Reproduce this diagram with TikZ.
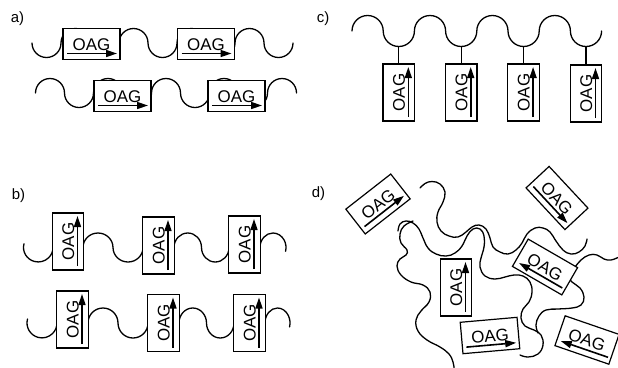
\documentclass[tikz,border=0pt]{standalone}
\usepackage{fontspec}
\setmainfont{Liberation Sans}
\usetikzlibrary{arrows.meta}
\newcommand{\WvT}[2]{arc[start angle=180,end angle=360,x radius=#1bp,y radius=#2bp]}
\newcommand{\WvC}[2]{arc[start angle=180,end angle=0,x radius=#1bp,y radius=#2bp]}
\begin{document}
\begin{tikzpicture}[x=1bp,y=-1bp,
  wave/.style={line width=1.3bp, line join=round, line cap=round},
  boxshape/.style={draw, line width=1.2bp, fill=white, minimum width=57bp, minimum height=31.5bp, inner sep=0pt, transform shape},
  oagtext/.style={inner sep=0pt, font=\fontsize{17}{17}\selectfont, transform shape},
  oagarrow/.style={line width=1.6bp, -{Triangle[length=11bp,width=7bp]}},
  lbl/.style={inner sep=0pt, font=\fontsize{15}{15}\selectfont},
  pics/oag/.style={code={
    \node[boxshape] (-box) at (0,0) {};
    \node[oagtext] (-txt) at (0,0.3) {OAG};
    \draw[oagarrow] (-24.5,9.5) -- (25.5,9.5);
  }},
  pics/oagrev/.style={code={
    \node[boxshape] (-box) at (0,0) {};
    \node[oagtext] (-txt) at (0,0.3) {OAG};
    \draw[oagarrow] (25.5,9.5) -- (-24.5,9.5);
  }},
]
\useasboundingbox (0,0) rectangle (618,367);

% labels
\node[lbl] (la) at (17.5,19) {a)};
\node[lbl] (lb) at (18.5,196) {b)};
\node[lbl] (lc) at (323,19) {c)};
\node[lbl] (ld) at (318.5,194) {d)};

% ---------- a) ----------
\draw[wave] (32,43) \WvT{14.5}{14.5} \WvC{14.5}{14.5} \WvT{14.5}{14.5} \WvC{14.5}{14.5}
  \WvT{14.5}{14.5} \WvC{14.5}{14.5} \WvT{14.5}{14.5} \WvC{14.5}{14.5} \WvT{14.5}{14.5};
\draw[wave] (35.5,93) \WvC{14.5}{14.5} \WvT{14.5}{14.5} \WvC{14.5}{14.5} \WvT{14.5}{14.5}
  \WvC{14.5}{14.5} \WvT{14.5}{14.5} \WvC{14.5}{14.5} \WvT{14.5}{14.5} \WvC{14.5}{14.5};
\pic (a1) at (91.5,44) {oag};
\pic (a2) at (206,44) {oag};
\pic (a3) at (122.5,96) {oag};
\pic (a4) at (236.5,96) {oag};

% ---------- b) ----------
\draw[wave] (24,243.7) arc[start angle=165,end angle=360,x radius=14.75bp,y radius=14.5bp];
\draw[wave] (83,247.5) \WvC{15}{14.5} \WvT{15}{14.5};
\draw[wave] (174,247.5) \WvC{13.75}{14.5} \WvT{13.75}{14.5};
\draw[wave] (260,247.5) arc[start angle=180,end angle=-15,x radius=13bp,y radius=14.5bp];
\draw[wave] (27.5,319) arc[start angle=165,end angle=360,x radius=15bp,y radius=15bp];
\draw[wave] (88,323) \WvC{15}{15} \WvT{15}{15};
\draw[wave] (179,323) \WvC{13.75}{15} \WvT{13.75}{15};
\draw[wave] (265,323) arc[start angle=180,end angle=-15,x radius=12.5bp,y radius=15bp];
\pic[rotate=90] (b1) at (68,241.5) {oag};
\pic[rotate=90] (b2) at (158.5,245.5) {oag};
\pic[rotate=90] (b3) at (244.5,244.5) {oag};
\pic[rotate=90] (b4) at (72.5,319.5) {oag};
\pic[rotate=90] (b5) at (163.5,323) {oag};
\pic[rotate=90] (b6) at (249.5,323) {oag};

% ---------- c) ----------
\draw[wave] (352,31) \WvC{15.6}{15.5} \WvT{15.6}{15.5} \WvC{15.6}{15.5} \WvT{15.6}{15.5}
  \WvC{15.6}{15.5} \WvT{15.6}{15.5} \WvC{15.6}{15.5} \WvT{15.6}{15.5};
\pic[rotate=90] (c1) at (398.8,92.5) {oag};
\pic[rotate=90] (c2) at (461.2,92.5) {oag};
\pic[rotate=90] (c3) at (523.6,92.5) {oag};
\pic[rotate=90] (c4) at (586,93.5) {oag};
\coordinate (t1) at (398.8,46.5);
\coordinate (t2) at (461.2,46.5);
\coordinate (t3) at (523.6,46.5);
\coordinate (t4) at (586,46.5);
\draw[wave] (t1) -- (c1-box.east);
\draw[wave] (t2) -- (c2-box.east);
\draw[wave] (t3) -- (c3-box.east);
\draw[wave] (t4) -- (c4-box.east);

% ---------- d) ----------
\draw[wave] plot[smooth,tension=0.7] coordinates {(420,188) (425,183.5) (432,181.5) (440,184) (445,192) (443,202) (438,212) (437,222) (441,231) (449,236) (458,237) (466,232) (472,227) (479,225) (486,229) (490,238) (493,247) (500,252) (508,254) (516,250) (522,243) (527,234) (535,228) (543,228) (550,232) (556,241) (563,250) (571,254) (579,252) (585,246) (587,239)};
\draw[wave] plot[smooth,tension=0.7] coordinates {(398,231) (400,224) (406,221) (413,223) (419,229) (423,238) (428,248) (436,254) (446,256) (455,253) (462,246) (467,236) (473,229) (480,229) (484,236) (484,247) (481,258) (480,267) (485,276) (495,279) (505,277) (514,275) (523,276) (530,282) (532,292) (529,302) (523,309) (521,318) (525,326) (534,330) (541,335) (543,345) (538,354) (528,357) (520,355)};
\draw[wave] plot[smooth,tension=0.7] coordinates {(413,221) (404,226) (400,234) (401,243) (407,250) (406,255) (400,259) (397,266) (401,275) (411,282) (423,285) (430,292) (429,302) (421,311) (416,320) (418,331) (427,340) (440,347) (449,354) (453,362) (454,368)};
\draw[wave] plot[smooth,tension=0.7] coordinates {(619,257) (611,260) (604,259) (597,255) (589,255) (581,260) (575,267) (568,275) (572,282) (580,288) (584,297) (581,305) (572,308) (558,309) (546,310) (539,316) (536,325) (538,333)};
\pic[rotate=38] (d1) at (378,204) {oag};
\pic[rotate=-47] (d2) at (557,198) {oag};
\pic[rotate=90] (d3) at (456,287.5) {oag};
\pic[rotate=-30] (d4) at (545,267) {oagrev};
\pic[rotate=5] (d5) at (490,335.5) {oag};
\pic[rotate=-19] (d6) at (587,340) {oagrev};
\end{tikzpicture}
\end{document}
